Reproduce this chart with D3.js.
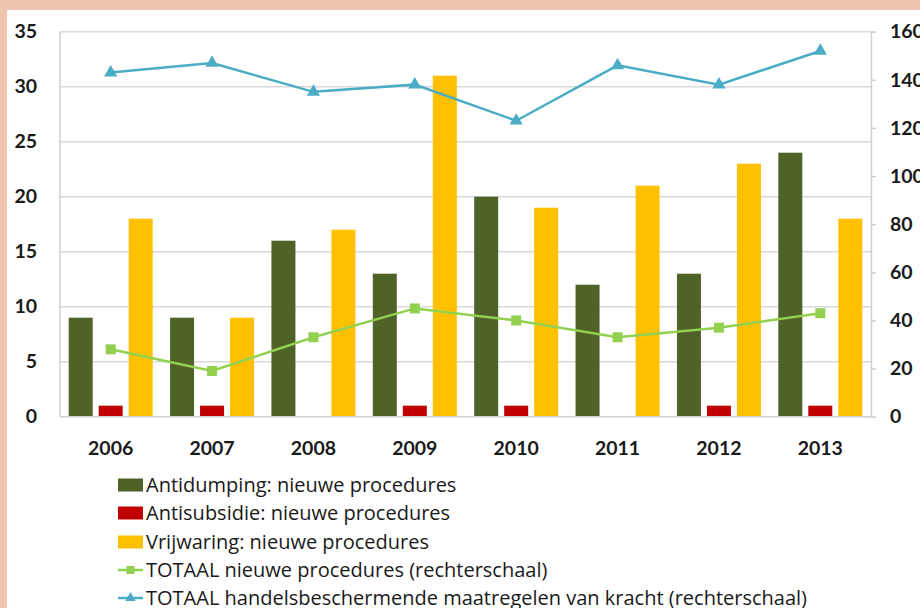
<!DOCTYPE html>
<html>
<head>
<meta charset="utf-8">
<script src="https://cdn.jsdelivr.net/npm/d3@7"></script>
<style>
  body { margin: 0; background: #efc4b1; }
  svg { display: block; }
  text { font-family: Lato, "Open Sans", sans-serif; fill: #1a1a1a; }
  .legend text { font-family: "Open Sans", Lato, sans-serif; }
</style>
</head>
<body>
<div id="container"></div>
<script>
// chart data
var years = ["2006", "2007", "2008", "2009", "2010", "2011", "2012", "2013"];
var antidumping = [9, 9, 16, 13, 20, 12, 13, 24];
var antisubsidie = [1, 1, 0, 1, 1, 0, 1, 1];
var vrijwaring = [18, 9, 17, 31, 19, 21, 23, 18];
var totaalNieuw = [28, 19, 33, 45, 40, 33, 37, 43];
var totaalKracht = [143, 147, 135, 138, 123, 146, 138, 152];
var leftTicks = [0, 5, 10, 15, 20, 25, 30, 35];
var rightTicks = [0, 20, 40, 60, 80, 100, 120, 140, 160];

var barSeries = [
  { name: "Antidumping: nieuwe procedures", values: antidumping, color: "#4f6228" },
  { name: "Antisubsidie: nieuwe procedures", values: antisubsidie, color: "#c00000" },
  { name: "Vrijwaring: nieuwe procedures", values: vrijwaring, color: "#ffc000" }
];
var lineSeries = [
  { name: "TOTAAL nieuwe procedures (rechterschaal)", values: totaalNieuw, color: "#92d050", marker: "square" },
  { name: "TOTAAL handelsbeschermende maatregelen van kracht (rechterschaal)", values: totaalKracht, color: "#4bacc6", marker: "triangle" }
];

var w = 920, h = 608;
var svg = d3.select("#container").append("svg")
  .attr("width", w).attr("height", h);

// white panel inside the pink frame (cut off at right and bottom)
svg.append("rect")
  .attr("x", 7).attr("y", 10)
  .attr("width", w).attr("height", h)
  .attr("fill", "#fff");

var plot = { left: 60, right: 871, top: 31.7, bottom: 416.7 };

var x0 = d3.scaleBand().domain(years).range([plot.left, plot.right]).padding(0);
var groupPad = (x0.bandwidth() - 84) / 2;
var x1 = d3.scaleBand().domain(d3.range(3))
  .range([groupPad, x0.bandwidth() - groupPad]).paddingInner(0.2);

var yL = d3.scaleLinear().domain([0, 35]).range([plot.bottom, plot.top]);
var yR = d3.scaleLinear().domain([0, 160]).range([plot.bottom, plot.top]);

// gridlines
svg.append("g").selectAll("line")
  .data(leftTicks.filter(function(d) { return d > 0; }))
  .enter().append("line")
  .attr("x1", plot.left).attr("x2", plot.right)
  .attr("y1", function(d) { return yL(d); })
  .attr("y2", function(d) { return yL(d); })
  .attr("stroke", "#d9d9d9").attr("stroke-width", 1.5);

// bars
barSeries.forEach(function(s, si) {
  svg.append("g").selectAll("rect")
    .data(s.values)
    .enter().append("rect")
    .attr("x", function(d, i) { return x0(years[i]) + x1(si); })
    .attr("width", x1.bandwidth())
    .attr("y", function(d) { return yL(d); })
    .attr("height", function(d) { return yL(0) - yL(d); })
    .attr("fill", s.color);
});

// axes lines
svg.append("line")
  .attr("x1", plot.left).attr("x2", plot.left)
  .attr("y1", plot.top).attr("y2", plot.bottom)
  .attr("stroke", "#d0d0d0").attr("stroke-width", 1.5);
svg.append("line")
  .attr("x1", plot.left).attr("x2", plot.right)
  .attr("y1", plot.bottom).attr("y2", plot.bottom)
  .attr("stroke", "#d0d0d0").attr("stroke-width", 1.5);

// right axis
var rightAxis = d3.axisRight(yR).tickValues(rightTicks).tickSize(5).tickPadding(14);
var gR = svg.append("g")
  .attr("transform", "translate(" + plot.right + ",0)")
  .call(rightAxis);
gR.select(".domain").attr("stroke", "#d0d0d0").attr("stroke-width", 1.5);
gR.selectAll(".tick line").attr("stroke", "#d0d0d0").attr("stroke-width", 1.5);
gR.selectAll("text")
  .style("font-size", "19.5px").style("font-weight", "bold")
  .attr("fill", "#1a1a1a");

// left axis
var leftAxis = d3.axisLeft(yL).tickValues(leftTicks).tickSize(0).tickPadding(23);
var gL = svg.append("g")
  .attr("transform", "translate(" + plot.left + ",0)")
  .call(leftAxis);
gL.select(".domain").remove();
gL.selectAll("text")
  .style("font-size", "19.5px").style("font-weight", "bold")
  .attr("fill", "#1a1a1a");

// bottom axis
var bottomAxis = d3.axisBottom(x0).tickSize(0).tickPadding(24);
var gB = svg.append("g")
  .attr("transform", "translate(0," + plot.bottom + ")")
  .call(bottomAxis);
gB.select(".domain").remove();
gB.selectAll("text")
  .style("font-size", "19.5px").style("font-weight", "bold")
  .attr("fill", "#1a1a1a");

// lines on the right scale
var cx = function(i) { return x0(years[i]) + x0.bandwidth() / 2; };
var triangle = d3.symbol().type(d3.symbolTriangle).size(75);

lineSeries.forEach(function(s) {
  var line = d3.line()
    .x(function(d, i) { return cx(i); })
    .y(function(d) { return yR(d); });
  svg.append("path")
    .datum(s.values)
    .attr("d", line)
    .attr("fill", "none")
    .attr("stroke", s.color)
    .attr("stroke-width", 2.5);
  var m = svg.append("g").selectAll("g")
    .data(s.values)
    .enter().append("g")
    .attr("transform", function(d, i) { return "translate(" + cx(i) + "," + yR(d) + ")"; });
  if (s.marker === "square") {
    m.append("rect").attr("x", -5).attr("y", -5).attr("width", 10).attr("height", 10)
      .attr("fill", s.color);
  } else {
    m.append("path").attr("d", triangle).attr("fill", s.color);
  }
});

// legend
var legend = svg.append("g").attr("class", "legend").attr("transform", "translate(118,0)");
var rowY = [485, 513, 542, 570, 598];

barSeries.forEach(function(s, i) {
  var g = legend.append("g").attr("transform", "translate(0," + rowY[i] + ")");
  g.append("rect").attr("x", 0).attr("y", -6.5).attr("width", 25).attr("height", 13)
    .attr("fill", s.color);
  g.append("text").attr("x", 28).attr("dy", "0.35em")
    .style("font-size", "20px").text(s.name);
});
lineSeries.forEach(function(s, i) {
  var g = legend.append("g").attr("transform", "translate(0," + rowY[i + 3] + ")");
  g.append("line").attr("x1", 0).attr("x2", 25).attr("stroke", s.color).attr("stroke-width", 2.5);
  if (s.marker === "square") {
    g.append("rect").attr("x", 8.5).attr("y", -4).attr("width", 8).attr("height", 8).attr("fill", s.color);
  } else {
    g.append("path").attr("transform", "translate(12.5,0)")
      .attr("d", d3.symbol().type(d3.symbolTriangle).size(45)).attr("fill", s.color);
  }
  g.append("text").attr("x", 28).attr("dy", "0.35em")
    .style("font-size", "20px").text(s.name);
});
</script>
</body>
</html>
